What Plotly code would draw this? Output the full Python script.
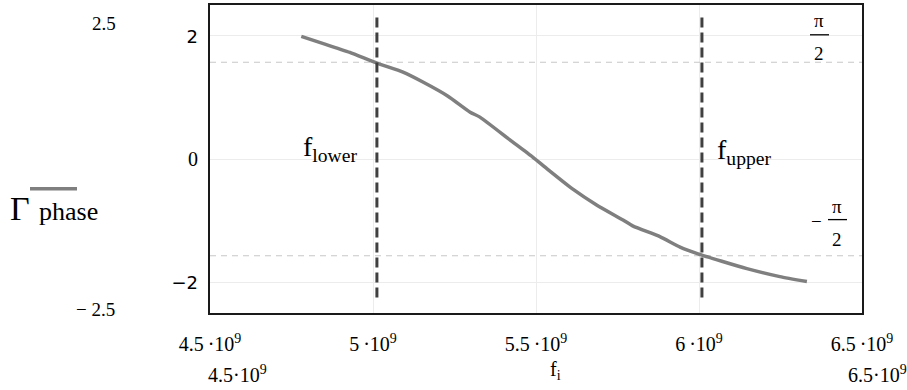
import math
import plotly.graph_objects as go

# Reflection coefficient phase vs. frequency
freq_hz = [4.78e9, 4.85e9, 4.929e9, 5.012e9, 5.092e9, 5.153e9, 5.23e9, 5.298e9,
           5.328e9, 5.42e9, 5.49e9, 5.534e9, 5.613e9, 5.687e9, 5.767e9, 5.798e9,
           5.88e9, 5.942e9, 5.997e9, 6.07e9, 6.147e9, 6.248e9, 6.331e9]
gamma_phase = [1.99, 1.87, 1.73, 1.555, 1.41, 1.25, 1.02, 0.76,
               0.68, 0.31, 0.03, -0.16, -0.49, -0.75, -0.99, -1.09,
               -1.26, -1.43, -1.54, -1.66, -1.78, -1.91, -1.99]

# Band edges
f_lower = 5.012e9
f_upper = 6.009e9
marker_span = [-2.25, 2.35]

# Axis settings
x_range = [4.5e9, 6.5e9]
y_range = [-2.5, 2.5]
x_ticks = [4.5e9, 5e9, 5.5e9, 6e9, 6.5e9]
x_tick_text = ["4.5\u2009·10<sup>9</sup>", "5\u2009·10<sup>9</sup>", "5.5\u2009·10<sup>9</sup>",
               "6\u2009·10<sup>9</sup>", "6.5\u2009·10<sup>9</sup>"]
y_ticks = [-2, 0, 2]
y_tick_text = ['<span style="font-family:DejaVu Sans;font-size:18px">\u22122</span>',
               "0",
               '<span style="font-family:DejaVu Sans;font-size:18px">2</span>']

SERIF = "Liberation Serif"
W, H = 907, 390
L, R, T, B = 210, 45, 3, 77
PW, PH = W - L - R, H - T - B


def px(xp):
    return (xp - L) / PW


def py(yp):
    return (H - B - yp) / PH


fig = go.Figure()

# +/- pi/2 reference lines
for level in (math.pi / 2, -math.pi / 2):
    fig.add_trace(go.Scatter(x=x_range, y=[level, level], mode="lines",
                             line=dict(color="#c8c8c8", width=1.2, dash="6px,5px"),
                             hoverinfo="skip", showlegend=False))

# Phase curve
fig.add_trace(go.Scatter(x=freq_hz, y=gamma_phase, mode="lines",
                         line=dict(color="#7f7f7f", width=3.5, shape="spline", smoothing=0.5),
                         showlegend=False))

# Band-edge markers
for f in (f_lower, f_upper):
    fig.add_trace(go.Scatter(x=[f, f], y=marker_span, mode="lines",
                             line=dict(color="#404040", width=3, dash="10px,5px"),
                             hoverinfo="skip", showlegend=False))

annotations = []


def text(x, y, s, size, family=SERIF, xanchor="center", yanchor="middle"):
    annotations.append(dict(xref="paper", yref="paper", x=px(x), y=py(y), text=s,
                            showarrow=False, xanchor=xanchor, yanchor=yanchor,
                            font=dict(family=family, size=size, color="black")))


# Band-edge labels
text(330, 147, "f<sub>lower</sub>", 28)
text(744, 150, "f<sub>upper</sub>", 28)

# Fraction labels for +/- pi/2
text(819, 19, "\u03c0", 19)
text(819, 52, "2", 19)
text(816, 221, "\u2212", 19)
text(837, 206, "\u03c0", 19)
text(837, 239, "2", 19)

# Axis end values and titles
text(104, 22, "2.5", 19)
text(95, 309, "\u2212 2.5", 19)
text(237, 374, "4.5\u00b710<sup>9</sup>", 20)
text(877, 374, "6.5\u00b710<sup>9</sup>", 20)
text(555, 371, "f<sub>i</sub>", 20)
text(20, 208, "\u0393", 34)
text(68, 211, "phase", 26)

shapes = [
    # white patches behind band-edge labels (cover gridlines only)
    dict(type="rect", xref="paper", yref="paper", x0=px(277), x1=px(403), y0=py(182), y1=py(113),
         fillcolor="white", line=dict(width=0), layer="between"),
    dict(type="rect", xref="paper", yref="paper", x0=px(693), x1=px(820), y0=py(182), y1=py(113),
         fillcolor="white", line=dict(width=0), layer="between"),
    # fraction bars
    dict(type="line", xref="paper", yref="paper", x0=px(810), x1=px(829), y0=py(33), y1=py(33),
         line=dict(color="black", width=1.3)),
    dict(type="line", xref="paper", yref="paper", x0=px(828), x1=px(847), y0=py(219), y1=py(219),
         line=dict(color="black", width=1.3)),
    # trace sample above the y title
    dict(type="line", xref="paper", yref="paper", x0=px(30), x1=px(77), y0=py(188), y1=py(188),
         line=dict(color="#7f7f7f", width=3.5)),
]

fig.update_layout(
    width=W, height=H,
    margin=dict(l=L, r=R, t=T, b=B),
    paper_bgcolor="white", plot_bgcolor="white",
    font=dict(family=SERIF, color="black"),
    annotations=annotations, shapes=shapes,
    xaxis=dict(range=x_range, tickvals=x_ticks, ticktext=x_tick_text,
               tickfont=dict(family=SERIF, size=20), ticks="", ticklabelstandoff=12,
               showgrid=True, gridcolor="#ececec", gridwidth=1, zeroline=False,
               showline=True, mirror=True, linecolor="#1a1a1a", linewidth=2),
    yaxis=dict(range=y_range, tickvals=y_ticks, ticktext=y_tick_text,
               tickfont=dict(family=SERIF, size=20), ticks="", ticklabelstandoff=6,
               showgrid=True, gridcolor="#ececec", gridwidth=1, zeroline=False,
               showline=True, mirror=True, linecolor="#1a1a1a", linewidth=2),
)

fig.write_html("out.html")
